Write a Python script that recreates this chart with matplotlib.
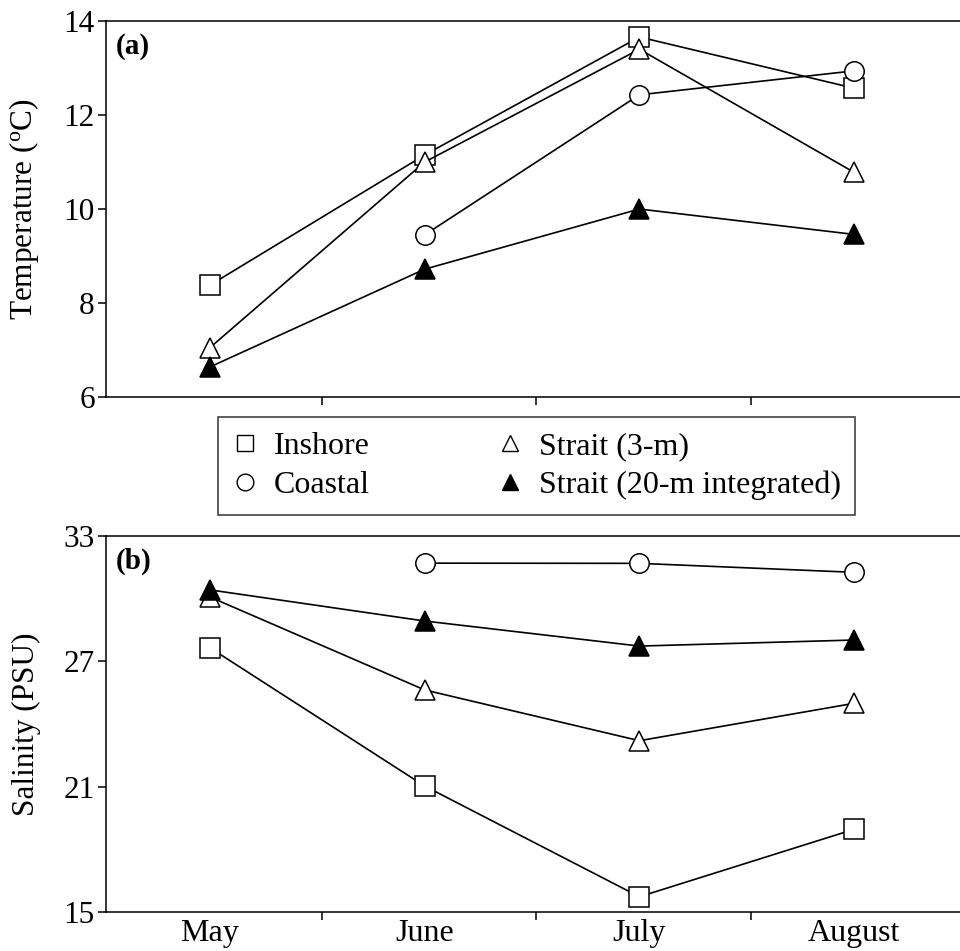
import numpy as np
import matplotlib.pyplot as plt
from matplotlib.lines import Line2D

plt.rcParams['font.family'] = ['Liberation Serif', 'DejaVu Serif']
plt.rcParams['mathtext.fontset'] = 'custom'
plt.rcParams['mathtext.rm'] = 'Liberation Serif'

# Datos
MESES = ["May", "June", "July", "August"]

temp_inshore = [8.38, 11.15, 13.66, 12.57]
temp_coastal = [np.nan, 9.45, 12.43, 12.94]
temp_strait3 = [7.05, 11.0, 13.4, 10.78]
temp_strait20 = [6.64, 8.72, 10.0, 9.46]

sal_inshore = [27.65, 21.03, 15.73, 18.96]
sal_coastal = [np.nan, 31.7, 31.69, 31.26]
sal_strait3 = [30.08, 25.63, 23.2, 24.99]
sal_strait20 = [30.42, 28.93, 27.73, 28.02]

ETIQUETAS = ["Inshore", "Coastal", "Strait (3-m)", "Strait (20-m integrated)"]
MARCADORES = [('s', 'white'), ('o', 'white'), ('^', 'white'), ('^', 'black')]

x = np.arange(len(MESES))

fig = plt.figure(figsize=(9.6, 9.51), dpi=100)
ax1 = fig.add_axes([0.1104, 0.5825, 0.8896, 0.3954])
ax2 = fig.add_axes([0.1104, 0.041, 0.8896, 0.3954])


def dibujar(ax, series):
    for valores, (m, fc) in zip(series, MARCADORES):
        v = np.array(valores, dtype=float)
        ok = ~np.isnan(v)
        ax.plot(x[ok], v[ok], '-', color='black', lw=1.2, marker=m,
                markersize=14, markerfacecolor=fc, markeredgecolor='black',
                markeredgewidth=1.1, zorder=3 if fc == 'black' else 2)


dibujar(ax1, [temp_inshore, temp_coastal, temp_strait3, temp_strait20])
dibujar(ax2, [sal_inshore, sal_coastal, sal_strait3, sal_strait20])

for ax in (ax1, ax2):
    ax.set_xlim(-0.484, 3.493)
    ax.spines['right'].set_visible(False)
    for s in ('left', 'top', 'bottom'):
        ax.spines[s].set_linewidth(1.1)
    ax.set_xticks(x)
    ax.set_xticks(x[:-1] + 0.52, minor=True)
    ax.tick_params(axis='x', which='major', length=0, labelsize=23, pad=5)
    ax.tick_params(axis='x', which='minor', length=6, width=1.1, direction='out')
    ax.tick_params(axis='y', length=6, width=1.1, direction='out', labelsize=22.5, pad=2)

ax1.set_ylim(6, 14)
ax1.set_yticks([6, 8, 10, 12, 14])
ax1.set_xticklabels([])
ax1.set_ylabel(r'Temperature ($\mathregular{^o}$C)', fontsize=22.5)
ax1.yaxis.set_label_coords(-0.076, 0.5)
ax1.text(0.011, 0.968, '(a)', transform=ax1.transAxes, va='top', ha='left',
         fontsize=21, fontweight='bold')

ax2.set_ylim(15, 33)
ax2.set_yticks([15, 21, 27, 33])
ax2.set_xticklabels(MESES)
ax2.set_ylabel('Salinity (PSU)', fontsize=22.5)
ax2.yaxis.set_label_coords(-0.076, 0.5)
ax2.text(0.011, 0.968, '(b)', transform=ax2.transAxes, va='top', ha='left',
         fontsize=21, fontweight='bold')

handles = [Line2D([], [], linestyle='none', marker=m, markersize=12,
                  markerfacecolor=fc, markeredgecolor='black', markeredgewidth=1.0)
           for m, fc in MARCADORES]
leg = fig.legend(handles, ETIQUETAS, ncol=2, loc='center',
                 bbox_to_anchor=(536.5 / 960, 1 - 466 / 951), fontsize=23,
                 frameon=True, fancybox=False, edgecolor='black',
                 handlelength=0.8, handletextpad=0.5, columnspacing=4.0,
                 labelspacing=0.3, borderpad=0.45, borderaxespad=0)
leg.get_frame().set_linewidth(1.1)

fig.savefig('out.png', dpi=100)
